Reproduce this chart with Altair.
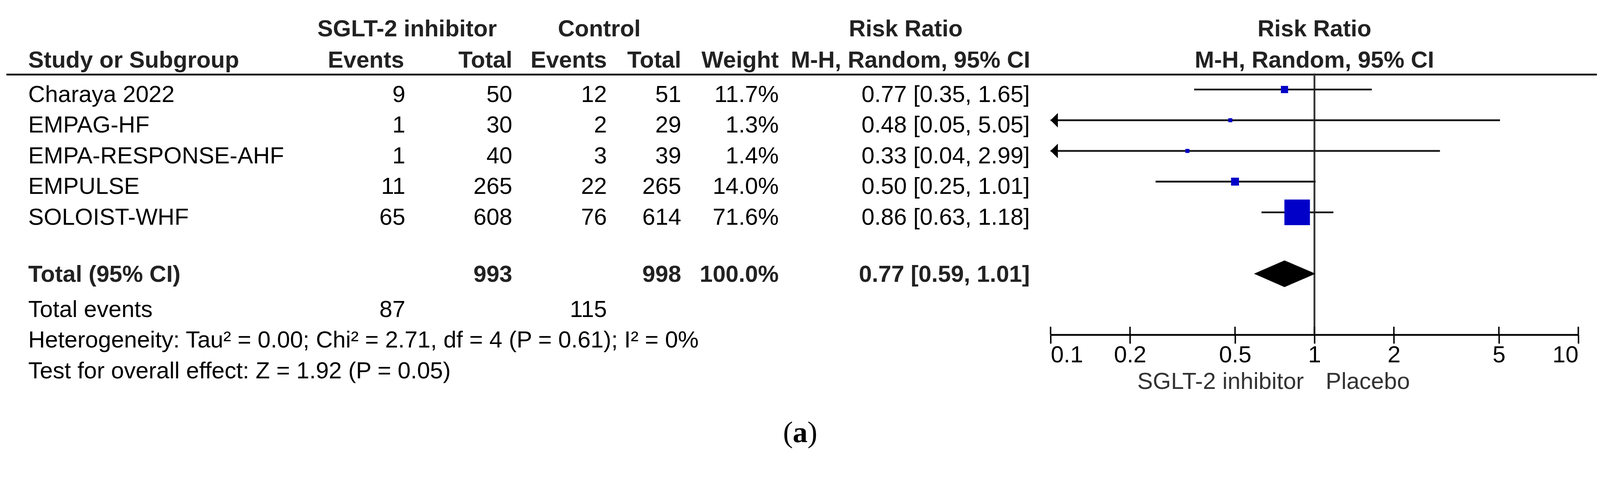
import altair as alt
import pandas as pd

# ---------------- data ----------------
studies = ["Charaya 2022", "EMPAG-HF", "EMPA-RESPONSE-AHF", "EMPULSE", "SOLOIST-WHF"]
sglt_events = [9, 1, 1, 11, 65]
sglt_total = [50, 30, 40, 265, 608]
ctrl_events = [12, 2, 3, 22, 76]
ctrl_total = [51, 29, 39, 265, 614]
weights = [11.7, 1.3, 1.4, 14.0, 71.6]
rr = [0.77, 0.48, 0.33, 0.50, 0.86]
rr_lo = [0.35, 0.05, 0.04, 0.25, 0.63]
rr_hi = [1.65, 5.05, 2.99, 1.01, 1.18]

pooled_rr, pooled_lo, pooled_hi = 0.77, 0.59, 1.01
total_n = [993, 998]
total_weight = 100.0
total_events = [87, 115]
heterogeneity = "Heterogeneity: Tau\u00b2 = 0.00; Chi\u00b2 = 2.71, df = 4 (P = 0.61); I\u00b2 = 0%"
overall = "Test for overall effect: Z = 1.92 (P = 0.05)"
axis_ticks = [0.1, 0.2, 0.5, 1, 2, 5, 10]
favours = ["SGLT-2 inhibitor", "Placebo"]

# ---------------- layout / style ----------------
K = 0.978                      # vertical layout factor


def ry(v):
    """vertical layout position (chart pixels) for a reference-page position"""
    return K * (v - 73) + 48


W = 4379
H = round(ry(910))             # x axis sits at the bottom of the plot area
PADB = 320
FS = 64
FONT = "Liberation Sans"
ROW0, ROWH = ry(222), 86.2 * K
DIA_HALF = 0.435
DY = round(35 * K)
DY_TOT = round(23 * K)
HEAD = "#222222"

xsc = alt.Scale(type="log", domain=[0.1, 10], range=[2878, 4328], clamp=True, nice=False)
ysc = alt.Scale(domain=[0, 10], range=[ROW0, ROW0 + 10 * ROWH], zero=False, nice=False)
xax = alt.Axis(values=axis_ticks, format="~g", labelFlush=True, labelOverlap=False,
               labelFont=FONT, labelFontSize=FS, labelColor="black", labelPadding=0,
               tickSize=24, tickWidth=4, tickColor="black",
               domainWidth=5, domainColor="black", grid=False, title=None)


def X(field):
    return alt.X(field, scale=xsc, axis=xax)


def Y(field="row:Q"):
    return alt.Y(field, scale=ysc, axis=None)


df = pd.DataFrame({
    "row": list(range(len(studies))),
    "study": studies,
    "se": [str(v) for v in sglt_events],
    "st": [str(v) for v in sglt_total],
    "ce": [str(v) for v in ctrl_events],
    "ct": [str(v) for v in ctrl_total],
    "w": weights,
    "wt": [f"{w:.1f}%" for w in weights],
    "rr": rr, "lo": rr_lo, "hi": rr_hi,
    "ci": [f"{r:.2f} [{l:.2f}, {h:.2f}]" for r, l, h in zip(rr, rr_lo, rr_hi)],
})

tot = pd.DataFrame({
    "row": [6], "study": ["Total (95% CI)"], "st": [str(total_n[0])], "ct": [str(total_n[1])],
    "wt": [f"{total_weight:.1f}%"], "ci": [f"{pooled_rr:.2f} [{pooled_lo:.2f}, {pooled_hi:.2f}]"],
})
tev = pd.DataFrame({"row": [7], "study": ["Total events"],
                    "se": [str(total_events[0])], "ce": [str(total_events[1])]})
foot = pd.DataFrame({"row": [8, 9], "study": [heterogeneity, overall]})


def txt(data, field, x, align="right", bold=False, dy=DY, color="black"):
    return alt.Chart(data).mark_text(
        align=align, baseline="alphabetic", dy=dy, font=FONT, fontSize=FS,
        fontWeight="bold" if bold else "normal", color=color
    ).encode(x=alt.value(x), y=Y(), text=f"{field}:N")


def head(label, x, y, align="right"):
    return alt.Chart(pd.DataFrame({"t": [label]})).mark_text(
        align=align, baseline="alphabetic", font=FONT, fontSize=FS, fontWeight="bold", color=HEAD
    ).encode(x=alt.value(x), y=alt.value(y), text="t:N")


COLS = {"se": 1105, "st": 1399, "ce": 1659, "ct": 1863, "wt": 2131, "ci": 2821}
H1, H2 = ry(73), ry(160)
layers = []

one = pd.DataFrame({"v": [1], "a": ["Risk Ratio"], "b": ["M-H, Random, 95% CI"],
                    "l": [favours[0]], "r": [favours[1]]})

# headers
layers += [
    head("SGLT-2 inhibitor", 1110, H1, "center"),
    head("Control", 1638, H1, "center"),
    head("Risk Ratio", 2480, H1, "center"),
    head("Study or Subgroup", 69, H2, "left"),
    head("Events", 1102, H2), head("Total", 1399, H2),
    head("Events", 1659, H2), head("Total", 1863, H2),
    head("Weight", 2131, H2), head("M-H, Random, 95% CI", 2822, H2),
]
layers += [
    alt.Chart(one).mark_text(align="center", baseline="alphabetic", font=FONT, fontSize=FS,
                             fontWeight="bold", color=HEAD).encode(x=X("v:Q"), y=alt.value(H1), text="a:N"),
    alt.Chart(one).mark_text(align="center", baseline="alphabetic", font=FONT, fontSize=FS,
                             fontWeight="bold", color=HEAD).encode(x=X("v:Q"), y=alt.value(H2), text="b:N"),
]

# separator line under header
layers.append(alt.Chart(one).mark_rule(color="black", strokeWidth=5).encode(
    x=alt.value(9), x2=alt.value(W), y=alt.value(ry(180))))

# study rows
layers.append(txt(df, "study", 69, "left"))
for f, x in COLS.items():
    layers.append(txt(df, f, x))

# total row (bold)
layers.append(txt(tot, "study", 69, "left", bold=True, dy=DY_TOT, color=HEAD))
for f in ["st", "ct", "wt", "ci"]:
    layers.append(txt(tot, f, COLS[f], bold=True, dy=DY_TOT, color=HEAD))

# total events
layers.append(txt(tev, "study", 69, "left"))
layers.append(txt(tev, "se", COLS["se"]))
layers.append(txt(tev, "ce", COLS["ce"]))

# footnotes
layers.append(txt(foot, "study", 69, "left"))

# forest: line of no effect
layers.append(alt.Chart(one).mark_rule(color="#333333", strokeWidth=5).encode(
    x=X("v:Q"), y=alt.value(ry(177)), y2=alt.value(H)))

# upward part of axis ticks
layers.append(alt.Chart(pd.DataFrame({"t": axis_ticks})).mark_rule(color="black", strokeWidth=4).encode(
    x=X("t:Q"), y=alt.value(H - 22), y2=alt.value(H)))

# CI lines
layers.append(alt.Chart(df).mark_rule(color="#1a1a1a", strokeWidth=5).encode(
    x=X("lo:Q"), x2="hi:Q", y=Y()))

# arrows for CIs beyond the left limit
layers.append(alt.Chart(df).transform_filter("datum.lo < 0.1").mark_point(
    shape="M0,0L1,-1L1,1Z", filled=True, color="black", opacity=1, size=1600, strokeWidth=0
).encode(x=X("lo:Q"), y=Y()))

# weight squares
layers.append(alt.Chart(df).transform_calculate(
    area="pow(10 + 0.84 * datum.w, 2)"
).mark_square(filled=True, color="#0000C8", opacity=1).encode(
    x=X("rr:Q"), y=Y(), size=alt.Size("area:Q", scale=None)))

# pooled diamond (horizontal area: top tip, widest at the centre, bottom tip)
dia = pd.DataFrame({"pt": ["top", "mid", "bot"], "row": [6, 6, 6]})
layers.append(alt.Chart(dia).transform_calculate(
    yy=f"datum.row + (datum.pt == 'top' ? -{DIA_HALF} : datum.pt == 'bot' ? {DIA_HALF} : 0)",
    xa=f"datum.pt == 'mid' ? {pooled_lo} : {pooled_rr}",
    xb=f"datum.pt == 'mid' ? {pooled_hi} : {pooled_rr}",
).mark_area(color="black", orient="horizontal", opacity=1, interpolate="linear").encode(
    y=Y("yy:Q"), x=X("xa:Q"), x2="xb:Q"))

# favours labels
FY = ry(1063)
layers += [
    alt.Chart(one).mark_text(align="right", baseline="alphabetic", dx=-29, font=FONT, fontSize=FS,
                             color="#333333").encode(x=X("v:Q"), y=alt.value(FY), text="l:N"),
    alt.Chart(one).mark_text(align="left", baseline="alphabetic", dx=31, font=FONT, fontSize=FS,
                             color="#333333").encode(x=X("v:Q"), y=alt.value(FY), text="r:N"),
]

# caption "(a)"
cap = pd.DataFrame({"p1": ["("], "a": ["a"], "p2": [")"]})
SERIF = "Liberation Serif"
CY = ry(1212)
layers += [
    alt.Chart(cap).mark_text(align="right", baseline="alphabetic", font=SERIF, fontSize=82,
                             color="black").encode(x=alt.value(2190 - 20), y=alt.value(CY), text="p1:N"),
    alt.Chart(cap).mark_text(align="center", baseline="alphabetic", font=SERIF, fontSize=82,
                             fontWeight="bold", color="black").encode(x=alt.value(2190), y=alt.value(CY), text="a:N"),
    alt.Chart(cap).mark_text(align="left", baseline="alphabetic", font=SERIF, fontSize=82,
                             color="black").encode(x=alt.value(2190 + 20), y=alt.value(CY), text="p2:N"),
]

chart = alt.layer(*layers).properties(
    width=W, height=H,
    autosize=alt.AutoSizeParams(type="none"),
    padding={"left": 0, "top": 0, "right": 0, "bottom": PADB},
    background="white",
).configure_view(stroke="transparent")

chart.save("out.html", embed_options={"renderer": "svg", "actions": False})
